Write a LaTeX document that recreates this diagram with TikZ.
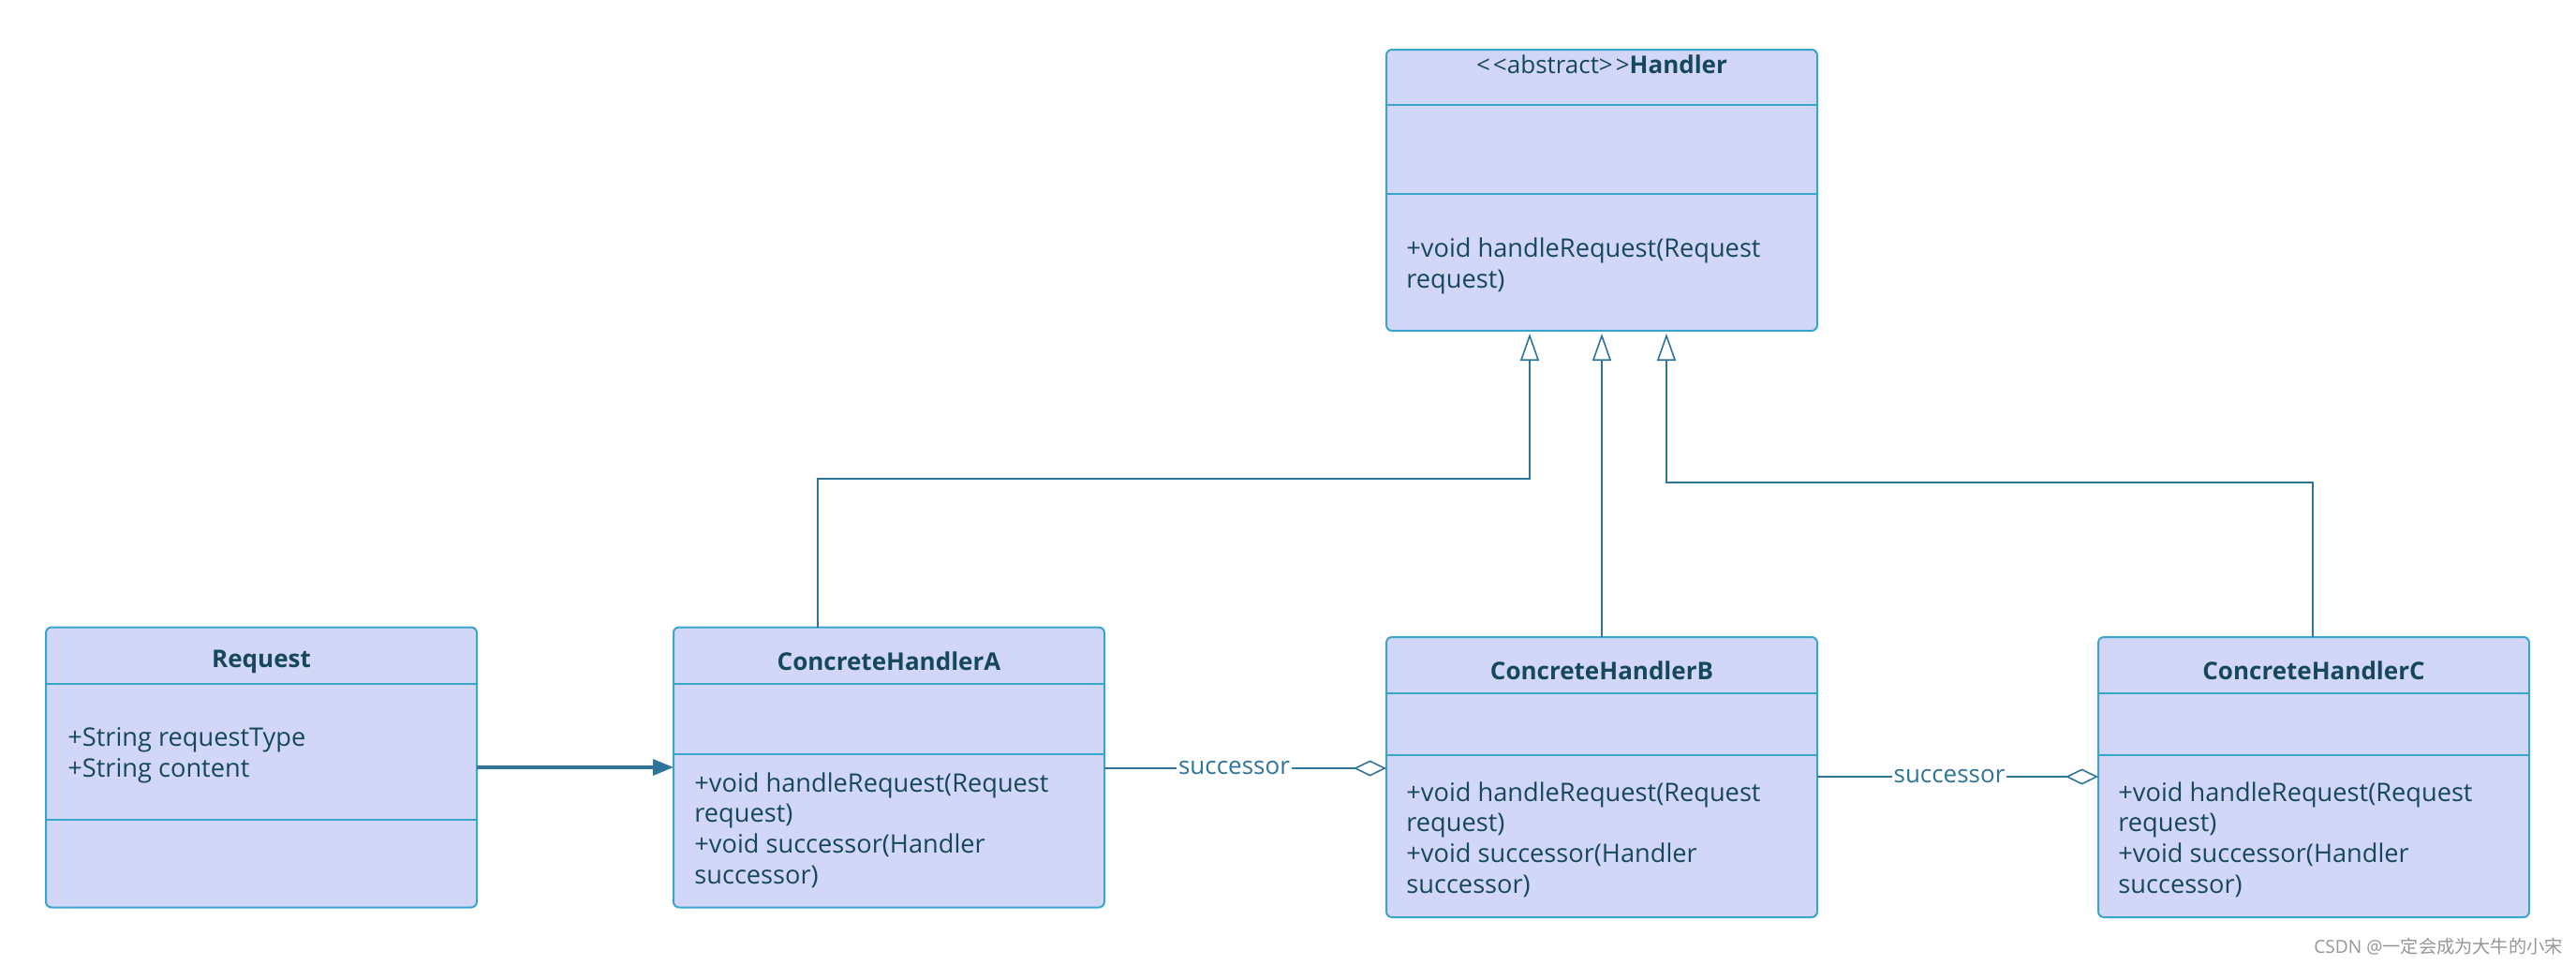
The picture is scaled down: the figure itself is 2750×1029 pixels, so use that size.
\documentclass[tikz,border=0pt]{standalone}
\usepackage{fontspec}
\setmainfont{Open Sans}
\newfontfamily\cjkfont{Noto Sans CJK SC}
\usetikzlibrary{arrows.meta}
\definecolor{boxfill}{RGB}{211,215,247}
\definecolor{boxline}{RGB}{56,165,205}
\definecolor{txt}{RGB}{22,72,92}
\definecolor{conn}{RGB}{46,117,153}
\definecolor{wm}{RGB}{150,150,150}
\begin{document}
\begin{tikzpicture}[x=0.5pt,y=-0.5pt,
 classbox/.style={draw=boxline, fill=boxfill, line width=1pt, rounded corners=3pt, minimum width=230pt, minimum height=149.5pt, inner sep=0pt, outer sep=0pt},
 divider/.style={draw=boxline, line width=1pt},
 ctitle/.style={font=\fontsize{13}{15}\selectfont\bfseries, text=txt, inner sep=0pt},
 cbody/.style={font=\fontsize{13.6}{16.3}\selectfont, text=txt, align=left, anchor=west, inner sep=0pt},
 gen/.style={draw=conn, line width=0.8pt, shorten >=1.5pt, -{Triangle[open, length=14.5pt, width=10pt]}},
 agg/.style={draw=conn, line width=0.8pt, -{Diamond[open, length=17.5pt, width=8.5pt]}},
 assoc/.style={draw=conn, line width=1.6pt, -{Triangle[length=11pt, width=8.5pt]}},
 lbl/.style={fill=white, text=conn, font=\fontsize{13}{15}\selectfont, inner sep=1pt}
]
\useasboundingbox[fill=white] (0,0) rectangle (2750,1029);

% Handler
\node[classbox, minimum height=150pt] (H) at (1710,203) {};
\draw[divider] (H.west |- 0,112) -- (H.east |- 0,112);
\draw[divider] (H.west |- 0,207) -- (H.east |- 0,207);
\node[ctitle, font=\fontsize{13}{15}\selectfont] (Ht) at (1710,69) {<\kern1.5pt<abstract>\kern1.5pt>\textbf{Handler}};
\node[cbody] (Hm) at (1501,284) {+void handleRequest(Request\\request)};

% Request
\node[classbox] (R) at (279,819) {};
\draw[divider] (R.west |- 0,730) -- (R.east |- 0,730);
\draw[divider] (R.west |- 0,875) -- (R.east |- 0,875);
\node[ctitle] (Rt) at (279,706) {Request};
\node[cbody] (Ra) at (72,806) {+String requestType\\+String content};

% ConcreteHandlerA
\node[classbox] (A) at (949,819) {};
\draw[divider] (A.west |- 0,730) -- (A.east |- 0,730);
\draw[divider] (A.west |- 0,805) -- (A.east |- 0,805);
\node[ctitle] (At) at (949,706) {ConcreteHandlerA};
\node[cbody] (Am) at (741,886) {+void handleRequest(Request\\request)\\+void successor(Handler\\successor)};

% ConcreteHandlerB
\node[classbox] (B) at (1710,829.5) {};
\draw[divider] (B.west |- 0,740) -- (B.east |- 0,740);
\draw[divider] (B.west |- 0,806) -- (B.east |- 0,806);
\node[ctitle] (Bt) at (1710,716) {ConcreteHandlerB};
\node[cbody] (Bm) at (1501,896) {+void handleRequest(Request\\request)\\+void successor(Handler\\successor)};

% ConcreteHandlerC
\node[classbox] (C) at (2470,829.5) {};
\draw[divider] (C.west |- 0,740) -- (C.east |- 0,740);
\draw[divider] (C.west |- 0,806) -- (C.east |- 0,806);
\node[ctitle] (Ct) at (2470,716) {ConcreteHandlerC};
\node[cbody] (Cm) at (2261,896) {+void handleRequest(Request\\request)\\+void successor(Handler\\successor)};

% connectors
\draw[assoc] (R.east |- 0,819) -- (A.west |- 0,819);
\draw[agg] (A.east |- 0,820) -- node[lbl, pos=0.46] (s1) {successor} (B.west |- 0,820);
\draw[agg] (B.east |- 0,829) -- node[lbl, pos=0.47] (s2) {successor} (C.west |- 0,829);

\coordinate (ga) at (1633,511);
\coordinate (gc) at (1779,515);
\draw[gen] (A.north -| 873,0) |- (ga) -- (H.south -| ga);
\draw[gen] (B.north) -- (H.south);
\draw[gen] (C.north -| 2469,0) |- (gc) -- (H.south -| gc);

% watermark
\node[text=wm, anchor=east, inner sep=0pt, font=\fontsize{9.6}{11}\selectfont] (wmk) at (2736,1010) {CSDN @{\cjkfont 一定会成为大牛的小宋}};
\end{tikzpicture}
\end{document}
